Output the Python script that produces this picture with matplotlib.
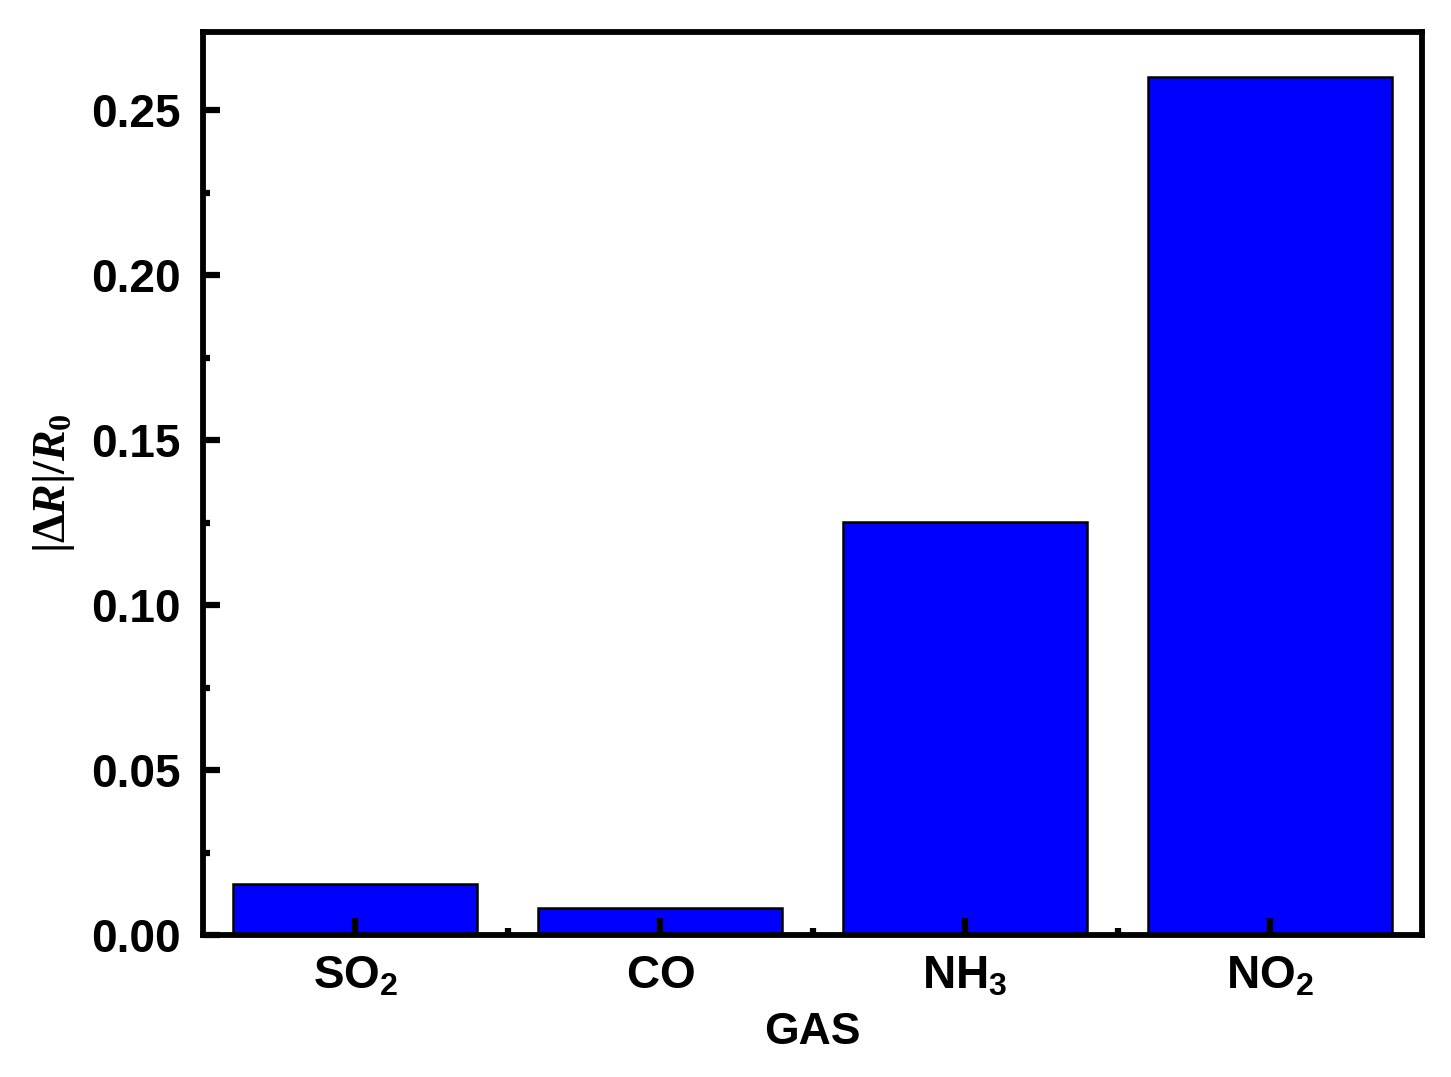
import numpy as np
import matplotlib.pyplot as plt

plt.rcParams['font.family'] = ['Liberation Sans', 'DejaVu Sans']
plt.rcParams['font.weight'] = 'bold'
plt.rcParams['mathtext.fontset'] = 'custom'
plt.rcParams['mathtext.rm'] = 'Liberation Serif:bold'
plt.rcParams['mathtext.it'] = 'Liberation Serif:bold:italic'
plt.rcParams['mathtext.sf'] = 'Liberation Sans:bold'

gases = [r'$\mathsf{SO_2}$', r'$\mathsf{CO}$', r'$\mathsf{NH_3}$', r'$\mathsf{NO_2}$']
response = [0.0155, 0.0082, 0.1253, 0.2600]

fig = plt.figure(figsize=(14.51, 10.77), dpi=100)
ax = fig.add_axes([0.1399, 0.1318, 0.8404, 0.8385])

pos = np.arange(1, len(gases) + 1)
ax.bar(pos, response, width=0.8, color='#0000ff', edgecolor='black', linewidth=1.8, zorder=1)
ax.set_axisbelow(False)

ax.set_xlim(0.5, 4.5)
ax.set_ylim(0, 0.2737)
ax.set_xticks(pos)
ax.set_xticklabels(gases)
ax.set_xticks(pos[:-1] + 0.5, minor=True)
ax.set_yticks(np.arange(0, 0.26, 0.05))
ax.set_yticks(np.arange(0.025, 0.27, 0.05), minor=True)
ax.yaxis.set_major_formatter(plt.FormatStrFormatter('%.2f'))

for s in ax.spines.values():
    s.set_linewidth(4.2)
ax.tick_params(which='major', direction='in', length=12, width=4.5, labelsize=33)
ax.tick_params(which='minor', direction='in', length=5, width=4.5)
ax.tick_params(axis='x', which='major', pad=14)
ax.tick_params(axis='y', which='major', pad=16)
for lab in ax.get_yticklabels():
    lab.set_fontweight('bold')

ax.set_xlabel('GAS', fontsize=32, fontweight='bold', labelpad=10)
ax.set_ylabel(r'$|\mathit{\Delta R}|/\mathit{R}_\mathit{0}$', fontsize=33, labelpad=10)

fig.savefig('out.png', dpi=100)
